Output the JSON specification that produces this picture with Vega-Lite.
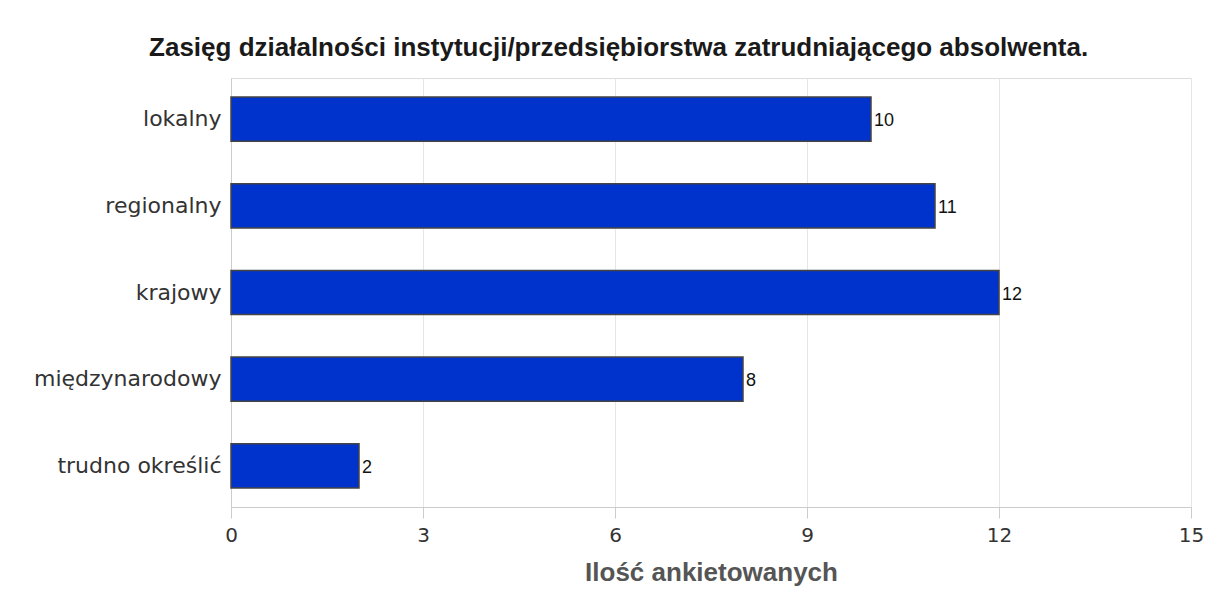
{
  "$schema": "https://vega.github.io/schema/vega-lite/v6.json",
  "autosize": {"type": "none"},
  "width": 960,
  "height": 429,
  "padding": {"left": 231, "top": 78, "right": 25, "bottom": 102},
  "background": "white",
  "title": {
    "text": "Zasięg działalności instytucji/przedsiębiorstwa zatrudniającego absolwenta.",
    "font": "Liberation Sans",
    "fontSize": 26,
    "fontWeight": "bold",
    "color": "#1a1a1a",
    "anchor": "middle",
    "frame": "bounds",
    "offset": 17
  },
  "data": {
    "values": [
      {"kategoria": "lokalny", "ilosc": 10},
      {"kategoria": "regionalny", "ilosc": 11},
      {"kategoria": "krajowy", "ilosc": 12},
      {"kategoria": "międzynarodowy", "ilosc": 8},
      {"kategoria": "trudno określić", "ilosc": 2}
    ]
  },
  "encoding": {
    "y": {
      "field": "kategoria",
      "type": "nominal",
      "sort": null,
      "scale": {"paddingInner": 0.49, "paddingOuter": 0.22},
      "axis": {
        "title": null,
        "ticks": false,
        "labelFont": "DejaVu Sans",
        "labelFontSize": 22,
        "labelColor": "#333333",
        "labelPadding": 10,
        "labelLimit": 400,
        "domainColor": "#cccccc"
      }
    },
    "x": {
      "field": "ilosc",
      "type": "quantitative",
      "scale": {"domain": [0, 15]},
      "axis": {
        "values": [0, 3, 6, 9, 12, 15],
        "title": "Ilość ankietowanych",
        "titleFont": "Liberation Sans",
        "titleFontSize": 26,
        "titleFontWeight": "bold",
        "titleColor": "#555555",
        "titlePadding": 14,
        "labelFont": "DejaVu Sans",
        "labelFontSize": 20,
        "labelColor": "#333333",
        "labelPadding": 7,
        "labelFlush": false,
        "tickColor": "#cccccc",
        "tickSize": 11,
        "domainColor": "#cccccc",
        "gridColor": "#e6e6e6",
        "grid": true
      }
    }
  },
  "layer": [
    {
      "mark": {"type": "bar", "color": "#0033cc", "stroke": "#444444", "strokeWidth": 1.5}
    },
    {
      "mark": {"type": "text", "align": "left", "baseline": "middle", "dx": 3, "dy": 2, "font": "Liberation Sans", "fontSize": 18, "color": "#111111"},
      "encoding": {"text": {"field": "ilosc", "type": "quantitative"}}
    }
  ],
  "config": {
    "view": {"stroke": "#dddddd", "strokeWidth": 1}
  }
}
